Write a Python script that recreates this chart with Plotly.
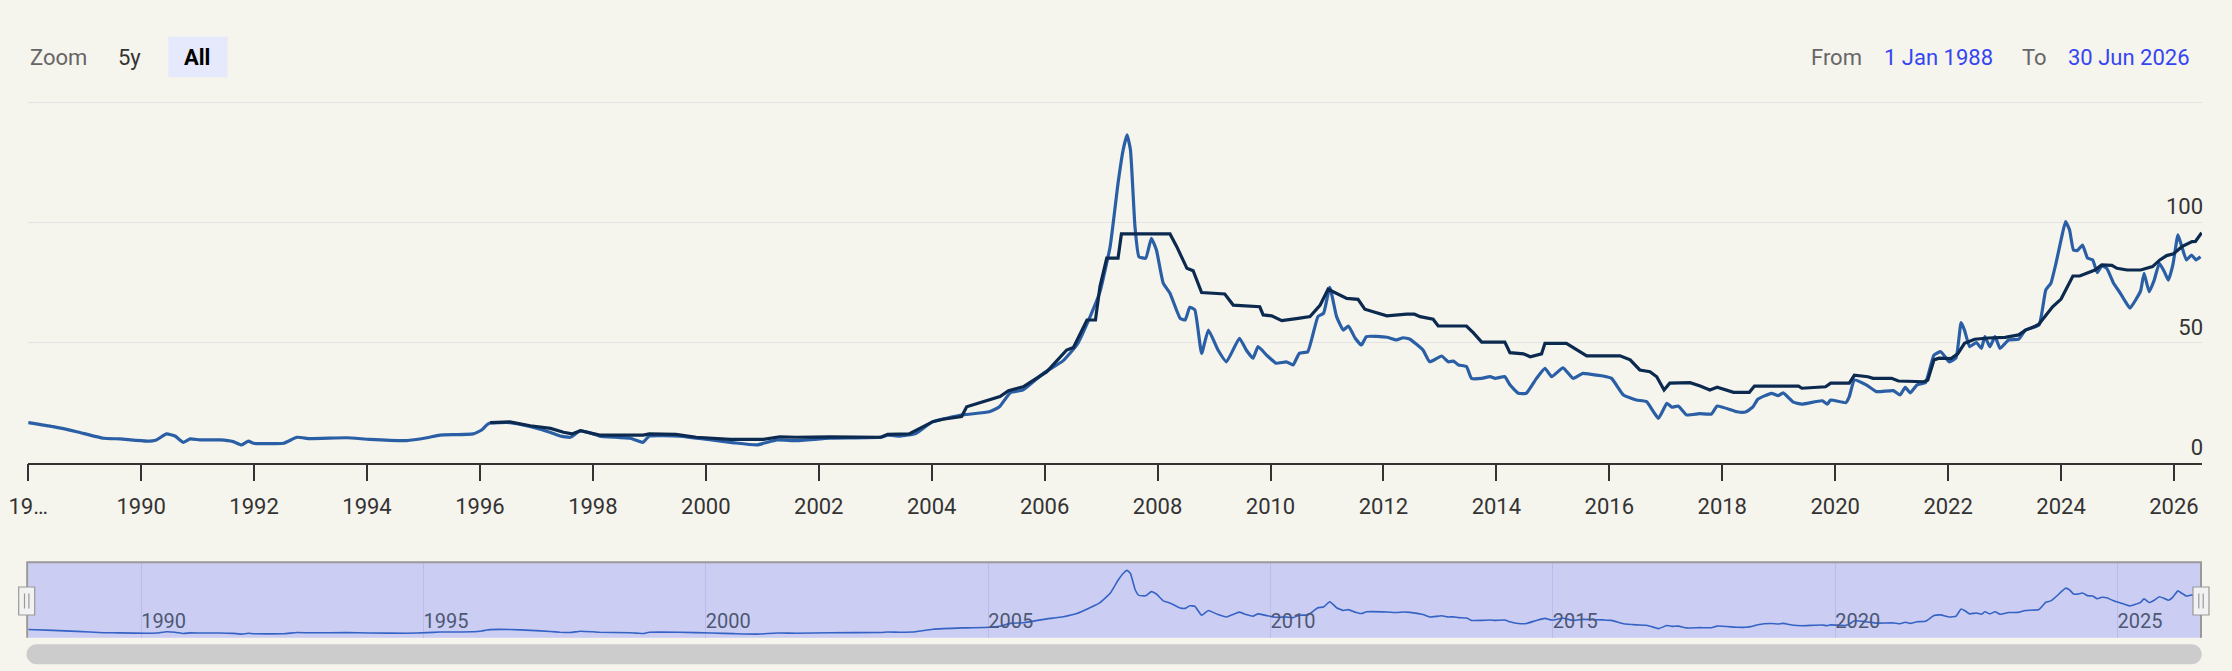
import plotly.graph_objects as go

# ---------------- data ----------------
blue_years = [1988.0, 1988.44, 1988.86, 1989.33, 1989.63, 1990.1, 1990.27, 1990.45, 1990.6, 1990.75,
              1990.87, 1991.04, 1991.4, 1991.63, 1991.78, 1991.9, 1991.99, 1992.52, 1992.76, 1992.99,
              1993.64, 1994.05, 1994.7, 1995.06, 1995.29, 1995.88, 1996.03, 1996.12, 1996.18, 1996.53,
              1996.9, 1997.25, 1997.42, 1997.6, 1997.78, 1998.0, 1998.12, 1998.66, 1998.8, 1998.89,
              1999.0, 1999.53, 2000.1, 2000.5, 2000.9, 2001.26, 2001.6, 2002.2, 2003.1, 2003.22,
              2003.44, 2003.72, 2004.02, 2004.55, 2005.02, 2005.2, 2005.39, 2005.62, 2005.98, 2006.33,
              2006.57, 2006.83, 2006.98, 2007.16, 2007.3, 2007.39, 2007.46, 2007.52, 2007.6, 2007.67,
              2007.79, 2007.89, 2007.98, 2008.1, 2008.22, 2008.4, 2008.49, 2008.57, 2008.66, 2008.78,
              2008.9, 2009.07, 2009.22, 2009.45, 2009.57, 2009.69, 2009.78, 2009.93, 2010.1, 2010.28,
              2010.4, 2010.51, 2010.66, 2010.84, 2010.94, 2011.05, 2011.17, 2011.29, 2011.38, 2011.5,
              2011.61, 2011.7, 2012.06, 2012.23, 2012.35, 2012.47, 2012.7, 2012.82, 2013.03, 2013.15,
              2013.24, 2013.33, 2013.47, 2013.56, 2013.74, 2013.89, 2013.98, 2014.15, 2014.24, 2014.39,
              2014.53, 2014.71, 2014.86, 2014.98, 2015.18, 2015.36, 2015.53, 2015.65, 2015.89, 2016.04,
              2016.25, 2016.48, 2016.66, 2016.87, 2017.02, 2017.11, 2017.22, 2017.37, 2017.6, 2017.81,
              2017.91, 2018.26, 2018.41, 2018.54, 2018.63, 2018.87, 2018.99, 2019.08, 2019.26, 2019.41,
              2019.77, 2019.86, 2019.92, 2020.19, 2020.25, 2020.34, 2020.55, 2020.73, 2021.03, 2021.15,
              2021.24, 2021.33, 2021.45, 2021.6, 2021.75, 2021.87, 2022.02, 2022.14, 2022.23, 2022.29,
              2022.38, 2022.5, 2022.59, 2022.65, 2022.74, 2022.83, 2022.92, 2023.07, 2023.25, 2023.37,
              2023.61, 2023.73, 2023.82, 2023.91, 2024.0, 2024.08, 2024.15, 2024.22, 2024.29, 2024.38,
              2024.47, 2024.56, 2024.64, 2024.72, 2024.81, 2024.93, 2025.05, 2025.14, 2025.22, 2025.32,
              2025.41, 2025.47, 2025.56, 2025.65, 2025.74, 2025.83, 2025.9, 2025.98, 2026.07, 2026.13,
              2026.22, 2026.31, 2026.39, 2026.47]
blue_values = [16.6, 14.9, 12.8, 10.1, 9.8, 8.9, 9.4, 11.9, 11.0, 8.4,
               9.8, 9.4, 9.4, 8.7, 7.3, 8.9, 8.0, 8.0, 10.5, 9.9,
               10.3, 9.6, 9.1, 10.3, 11.4, 11.9, 13.5, 15.6, 16.4, 16.6,
               14.9, 12.5, 11.0, 10.5, 13.2, 11.9, 11.0, 10.1, 9.0, 8.4,
               11.0, 11.0, 9.4, 8.2, 7.3, 9.4, 9.1, 10.1, 10.5, 11.4,
               11.0, 12.1, 17.0, 19.8, 21.1, 23.2, 29.0, 30.2, 37.1, 42.4,
               48.9, 62.1, 71.1, 89.8, 116.2, 130.0, 136.3, 130.0, 98.1, 85.6,
               85.0, 93.3, 88.4, 74.6, 70.4, 60.0, 59.3, 64.6, 63.5, 45.4,
               55.1, 46.8, 41.9, 51.7, 46.8, 43.4, 48.2, 44.7, 41.3, 41.9,
               40.6, 45.4, 46.1, 60.7, 62.1, 72.9, 60.7, 55.1, 56.8, 51.7,
               48.9, 52.4, 52.1, 51.0, 51.9, 51.3, 46.8, 41.9, 44.3, 41.9,
               42.2, 40.6, 39.9, 35.0, 35.0, 35.7, 35.0, 35.7, 32.3, 28.8,
               28.8, 35.0, 39.2, 35.7, 39.4, 35.0, 37.1, 36.8, 36.0, 35.0,
               28.1, 26.0, 25.3, 18.4, 24.6, 23.0, 23.5, 19.8, 20.3, 20.2,
               23.5, 21.1, 21.0, 23.0, 26.3, 28.8, 27.8, 29.0, 25.1, 24.3,
               25.7, 24.3, 26.0, 24.9, 27.4, 34.3, 32.3, 29.5, 29.9, 28.1,
               31.3, 29.0, 32.3, 33.2, 44.7, 46.1, 41.9, 43.5, 58.2, 55.1,
               48.2, 49.9, 47.5, 52.4, 48.2, 52.4, 47.5, 51.0, 51.3, 55.1,
               57.2, 71.8, 74.6, 82.9, 92.6, 100.2, 96.8, 88.4, 88.2, 90.5,
               85.0, 84.3, 79.0, 81.8, 80.8, 74.6, 70.4, 66.9, 64.2, 67.6,
               71.5, 78.7, 71.1, 75.9, 82.9, 79.4, 75.9, 82.2, 94.7, 90.5,
               84.3, 86.3, 84.3, 85.6]

dark_years = [1996.18, 1996.53, 1996.89, 1997.25, 1997.48, 1997.63, 1997.78, 1998.0, 1998.12, 1998.89,
              1999.0, 1999.47, 1999.83, 2000.43, 2001.02, 2001.31, 2001.6, 2002.2, 2003.1, 2003.22,
              2003.6, 2004.02, 2004.2, 2004.53, 2004.62, 2004.85, 2005.21, 2005.36, 2005.62, 2006.04,
              2006.39, 2006.51, 2006.75, 2006.9, 2006.98, 2007.1, 2007.3, 2007.36, 2008.22, 2008.34,
              2008.52, 2008.63, 2008.78, 2009.19, 2009.34, 2009.81, 2009.87, 2010.02, 2010.2, 2010.49,
              2010.7, 2010.88, 2011.02, 2011.35, 2011.55, 2011.67, 2012.06, 2012.41, 2012.55, 2012.65,
              2012.88, 2012.97, 2013.47, 2013.59, 2013.74, 2014.15, 2014.24, 2014.48, 2014.6, 2014.8,
              2014.86, 2015.24, 2015.6, 2016.19, 2016.37, 2016.54, 2016.72, 2016.84, 2016.97, 2017.07,
              2017.43, 2017.61, 2017.78, 2017.91, 2018.2, 2018.48, 2018.57, 2019.35, 2019.41, 2019.83,
              2019.92, 2020.25, 2020.34, 2020.58, 2020.67, 2021.0, 2021.12, 2021.57, 2021.64, 2021.75,
              2021.84, 2022.05, 2022.17, 2022.29, 2022.47, 2022.71, 2023.01, 2023.25, 2023.37, 2023.55,
              2023.61, 2023.85, 2024.0, 2024.21, 2024.33, 2024.6, 2024.72, 2024.9, 2024.99, 2025.17,
              2025.41, 2025.62, 2025.75, 2025.87, 2025.99, 2026.14, 2026.32, 2026.38, 2026.49]
dark_values = [16.6, 16.9, 15.3, 14.2, 12.6, 11.9, 13.2, 12.1, 11.4, 11.4,
               11.9, 11.7, 10.5, 9.6, 9.6, 10.7, 10.5, 10.7, 10.5, 11.7,
               11.9, 17.0, 18.0, 19.1, 23.2, 24.9, 27.4, 29.9, 31.5, 37.8,
               46.8, 47.9, 59.3, 59.3, 73.2, 85.0, 85.0, 95.1, 95.1, 89.8,
               80.8, 79.8, 70.7, 70.1, 65.5, 64.8, 61.4, 61.0, 59.0, 60.0,
               60.7, 65.5, 72.1, 68.3, 67.9, 63.8, 61.0, 61.7, 61.7, 60.7,
               59.6, 56.8, 56.8, 54.0, 50.1, 50.1, 45.7, 45.2, 44.0, 45.2,
               49.6, 49.6, 44.4, 44.4, 42.7, 38.5, 37.8, 35.7, 30.2, 33.0,
               33.2, 31.8, 30.2, 31.3, 29.2, 29.2, 31.8, 31.8, 30.9, 31.5,
               33.0, 33.0, 36.3, 35.7, 35.0, 35.0, 33.9, 33.6, 34.3, 42.7,
               43.4, 43.2, 45.2, 49.6, 51.3, 51.8, 52.1, 53.1, 55.1, 56.8,
               57.6, 64.8, 68.0, 77.6, 77.6, 80.1, 82.2, 82.0, 80.8, 80.1,
               80.1, 81.5, 84.3, 86.1, 86.8, 89.8, 91.9, 92.0, 95.6]

x_tick_years = [1988, 1990, 1992, 1994, 1996, 1998, 2000, 2002, 2004, 2006,
                2008, 2010, 2012, 2014, 2016, 2018, 2020, 2022, 2024, 2026]
x_tick_labels = ["19…", "1990", "1992", "1994", "1996", "1998", "2000", "2002", "2004", "2006",
                 "2008", "2010", "2012", "2014", "2016", "2018", "2020", "2022", "2024", "2026"]
y_tick_values = [0, 50, 100, 150]
y_tick_labels = ["0", "50", "100", ""]
nav_tick_years = [1990, 1995, 2000, 2005, 2010, 2015, 2020, 2025]
nav_tick_labels = ["1990", "1995", "2000", "2005", "2010", "2015", "2020", "2025"]
x_start, x_end = 1988.0, 2026.496
y_max = 152.0
zoom_buttons = ["5y", "All"]
from_label, to_label = "1 Jan 1988", "30 Jun 2026"

# ---------------- styling / layout ----------------
W, H = 2232, 671
FONT = "Roboto"
BG = "#f5f4ed"
BLUE = "#2a5fa6"
DARK = "#0c2a4f"
NAVLINE = "#3463c5"
DATEBLUE = "#3546f2"


def fx(px):
    return px / W


def fy(py):
    return 1 - py / H


plot_l, plot_r = 28.2, 2202.0
main_bot = 462.5
px_per_unit = (462.5 - 102.0) / 150.0
main_top = main_bot - y_max * px_per_unit
nav_top, nav_bot = 562.3, 637.7

fig = go.Figure()
fig.add_trace(go.Scatter(x=blue_years, y=blue_values, mode="lines", xaxis="x", yaxis="y",
                         line=dict(color=BLUE, width=3.2, shape="spline", smoothing=0.4),
                         hoverinfo="skip", showlegend=False))
fig.add_trace(go.Scatter(x=dark_years, y=dark_values, mode="lines", xaxis="x", yaxis="y",
                         line=dict(color=DARK, width=3.2),
                         hoverinfo="skip", showlegend=False))
fig.add_trace(go.Scatter(x=blue_years, y=blue_values, mode="lines", xaxis="x2", yaxis="y2",
                         line=dict(color=NAVLINE, width=1.6, shape="spline", smoothing=0.4),
                         hoverinfo="skip", showlegend=False))

shapes = []
# navigator mask
shapes.append(dict(type="rect", xref="x2 domain", yref="y2 domain", x0=0, x1=1, y0=0, y1=1,
                   fillcolor="#cbcdf2", line=dict(width=0), layer="below"))
# navigator outline (top + sides)
shapes.append(dict(type="path", xref="paper", yref="paper",
                   path=f"M {fx(plot_l - 1)},{fy(nav_bot)} L {fx(plot_l - 1)},{fy(nav_top)} "
                        f"L {fx(2201)},{fy(nav_top)} L {fx(2201)},{fy(nav_bot)}",
                   line=dict(color="#999999", width=2)))
# handles
for cx in (26.7, 2201.0):
    shapes.append(dict(type="rect", xref="paper", yref="paper",
                       x0=fx(cx - 8), x1=fx(cx + 8), y0=fy(615), y1=fy(587),
                       fillcolor="#f2f2f2", line=dict(color="#999999", width=1.2)))
    for dx in (-2.2, 2.2):
        shapes.append(dict(type="line", xref="paper", yref="paper",
                           x0=fx(cx + dx), x1=fx(cx + dx), y0=fy(593.5), y1=fy(608.5),
                           line=dict(color="#999999", width=1.2)))
# scrollbar pill
sl, sr, st, sb = 26.5, 2201.7, 644.3, 664.3
r = (sb - st) / 2
k = 0.5523 * r
cy = (st + sb) / 2
pts = [
    ("M", [(sl + r, st)]),
    ("L", [(sr - r, st)]),
    ("C", [(sr - r + k, st), (sr, cy - k), (sr, cy)]),
    ("C", [(sr, cy + k), (sr - r + k, sb), (sr - r, sb)]),
    ("L", [(sl + r, sb)]),
    ("C", [(sl + r - k, sb), (sl, cy + k), (sl, cy)]),
    ("C", [(sl, cy - k), (sl + r - k, st), (sl + r, st)]),
]
path = " ".join(cmd + " " + " ".join(f"{fx(a)},{fy(b)}" for a, b in p) for cmd, p in pts) + " Z"
shapes.append(dict(type="path", xref="paper", yref="paper", path=path,
                   fillcolor="#cccccc", line=dict(width=0)))
# "All" selected button background
shapes.append(dict(type="rect", xref="paper", yref="paper",
                   x0=fx(168.3), x1=fx(227.7), y0=fy(77.3), y1=fy(36.7),
                   fillcolor="#e6e8fb", line=dict(width=0)))

annotations = []


def txt(text, x, y, color, size=22, bold=False, xanchor="left"):
    annotations.append(dict(text=f"<b>{text}</b>" if bold else text, x=fx(x), y=fy(y),
                            xref="paper", yref="paper", xanchor=xanchor, yanchor="middle",
                            showarrow=False, font=dict(family=FONT, size=size, color=color)))


txt("Zoom", 28, 57, "#666666")
txt(zoom_buttons[0], 116, 57, "#333333")
txt(zoom_buttons[1], 197, 57, "#000000", bold=True, xanchor="center")
txt("From", 1809, 57, "#666666")
txt(from_label, 1882, 57, DATEBLUE)
txt("To", 2020, 57, "#666666")
txt(to_label, 2066, 57, DATEBLUE)

fig.update_layout(
    width=W, height=H,
    margin=dict(l=0, r=0, t=0, b=0, autoexpand=False),
    paper_bgcolor=BG, plot_bgcolor=BG,
    font=dict(family=FONT, size=22, color="#333333"),
    showlegend=False,
    xaxis=dict(domain=[fx(plot_l), fx(plot_r)], range=[x_start, x_end], anchor="y", automargin=False,
               tickmode="array", tickvals=x_tick_years, ticktext=x_tick_labels,
               showgrid=False, zeroline=False, showline=True, linecolor="#333333", linewidth=1.5,
               ticks="outside", ticklen=17, tickwidth=1.5, tickcolor="#333333",
               ticklabelstandoff=6, ticklabeloverflow="allow",
               tickfont=dict(family=FONT, size=22, color="#333333"), fixedrange=True),
    yaxis=dict(domain=[fy(main_bot), fy(main_top)], range=[0, y_max], anchor="free",
               position=fx(plot_r + 1), side="left", automargin=False,
               tickmode="array", tickvals=y_tick_values, ticktext=y_tick_labels,
               showgrid=True, gridcolor="#e3e3e3", gridwidth=1, zeroline=False, showline=False,
               ticks="", ticklabelposition="outside top", ticklabelstandoff=0,
               tickfont=dict(family=FONT, size=22, color="#333333"), fixedrange=True),
    xaxis2=dict(domain=[fx(plot_l), fx(plot_r)], range=[x_start, x_end], anchor="y2", automargin=False,
                tickmode="array", tickvals=nav_tick_years, ticktext=nav_tick_labels,
                showgrid=True, gridcolor="#b8bdee", gridwidth=1, zeroline=False, showline=False,
                ticks="", ticklabelposition="inside right",
                tickfont=dict(family=FONT, size=20, color="#4d5875"), fixedrange=True),
    yaxis2=dict(domain=[fy(nav_bot), fy(nav_top)], range=[0, 152.6], anchor="x2", automargin=False,
                showgrid=False, zeroline=False, showticklabels=False, showline=False,
                ticks="", fixedrange=True),
    shapes=shapes,
    annotations=annotations,
)

fig.write_html("out.html")
